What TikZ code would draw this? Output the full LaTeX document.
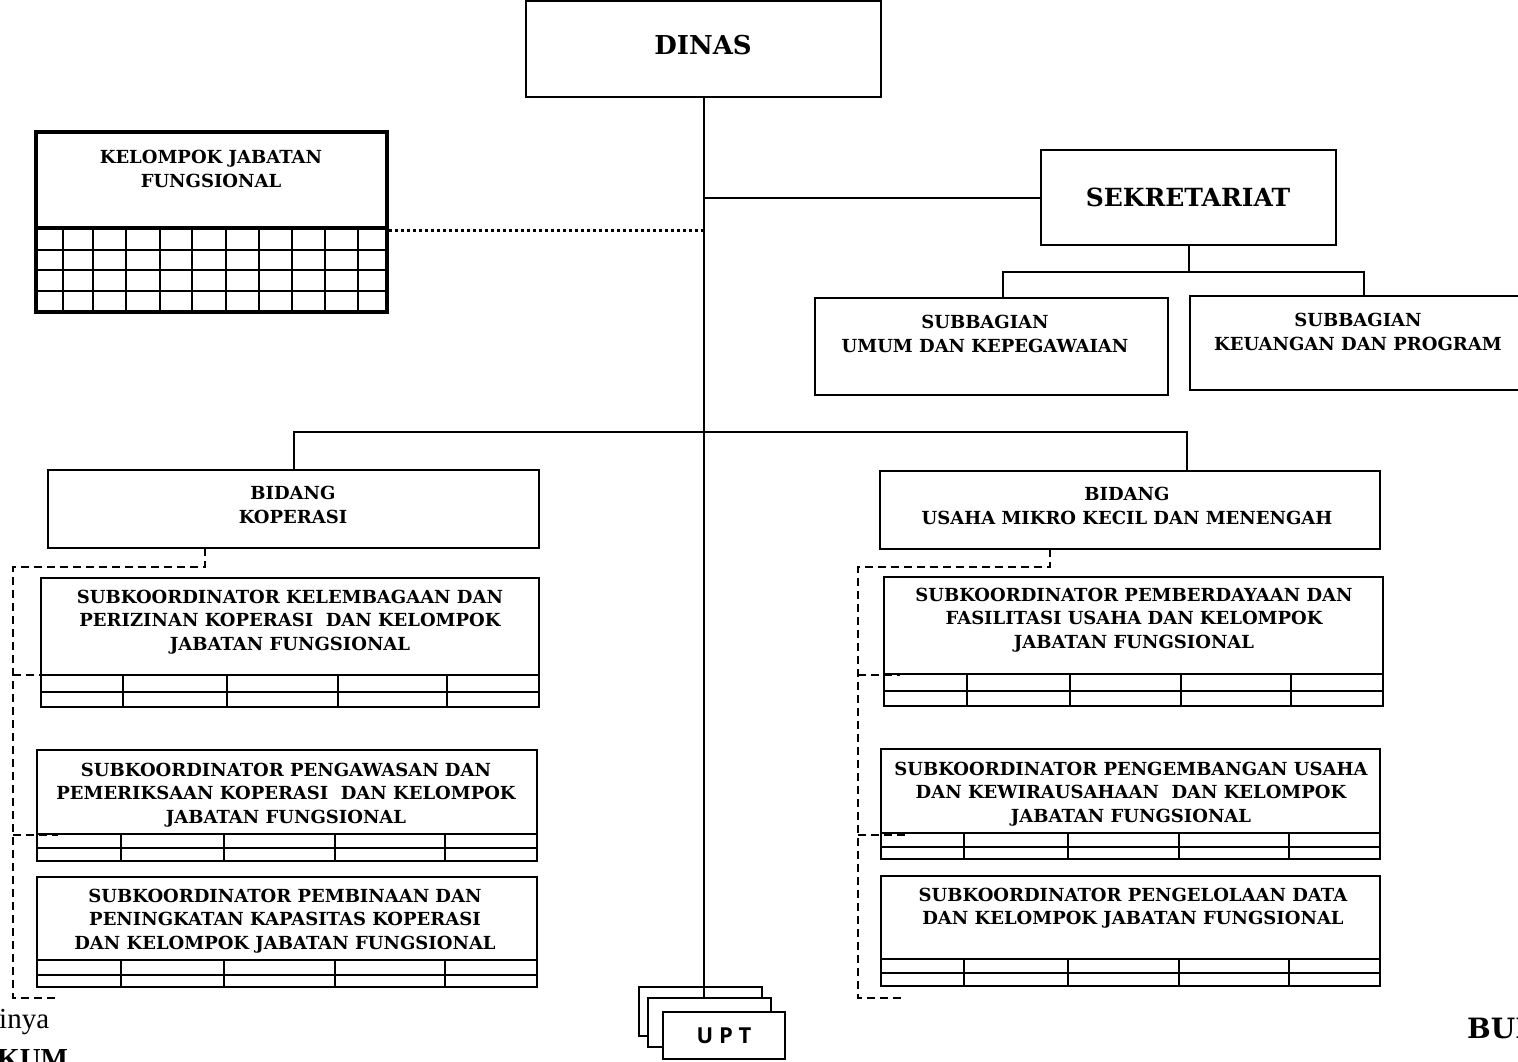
\documentclass[tikz,border=0pt]{standalone}
\usepackage{fontspec}
\setmainfont{DejaVu Serif}
\newfontfamily\plainserif{Liberation Serif}
\newfontfamily\uptfont{Open Sans}
\usetikzlibrary{fit,calc}

\tikzset{
  orgbox/.style={draw, line width=2pt, fill=white, inner sep=0pt},
  heavybox/.style={draw, line width=3.5pt, inner sep=0pt},
  gridline/.style={line width=1.8pt},
  link/.style={line width=2pt},
  dashlink/.style={line width=1.6pt, dash pattern=on 8pt off 5pt},
  dotlink/.style={line width=3pt, dash pattern=on 3pt off 3pt},
  lbl/.style={font=\bfseries\fontsize{18}{23.5}\selectfont, align=center, inner sep=0pt},
  biglbl/.style={font=\bfseries\fontsize{25}{30}\selectfont, inner sep=0pt},
}

% rows and columns of the small staff table under a sub-unit box
% #1 left x, #2 right x, #3 first row line, #4 second row line, #5 bottom, #6 column x list
\newcommand\stafftable[6]{%
  \draw[gridline] (#1,#3) -- (#2,#3) (#1,#4) -- (#2,#4);
  \foreach \cx in {#6} \draw[gridline] (\cx,#3) -- (\cx,#5);
}

\begin{document}
\begin{tikzpicture}[x=1pt, y=-1pt]
\useasboundingbox (0,0) rectangle (1518,1061);

% ---- head of office
\node[orgbox, fit={(526,1) (881,97)}] (dinas) {};
\node[biglbl, font=\bfseries\fontsize{26}{30}\selectfont] (dinast) at (703,45) {DINAS};

% ---- secretariat
\node[orgbox, fit={(1041,150) (1336,245)}] (sek) {};
\node[biglbl] (sekt) at (1188,197) {SEKRETARIAT};

\node[orgbox, fit={(815,298) (1168,395)}] (umum) {};
\node[lbl] (umumt) at (985,334) {SUBBAGIAN\\UMUM DAN KEPEGAWAIAN};
\node[orgbox, fit={(1190,296) (1530,390)}] (keu) {};
\node[lbl] (keut) at (1358,332) {SUBBAGIAN\\KEUANGAN DAN PROGRAM};

% ---- functional group box with its table
\node[heavybox, fit={(36,132) (387,312)}] (kjf) {};
\node[lbl] (kjft) at (211,169) {KELOMPOK JABATAN\\FUNGSIONAL};
\draw[line width=3.5pt] (36,228) -- (387,228);
\draw[gridline] (36,250) -- (387,250) (36,270) -- (387,270) (36,291) -- (387,291);
\foreach \cx in {63,93,126,160,192,226,259,292,325,358}
  \draw[gridline] (\cx,228) -- (\cx,312);

% ---- divisions
\node[orgbox, fit={(48,470) (539,548)}] (bidkop) {};
\node[lbl] (bidkopt) at (293,505) {BIDANG\\KOPERASI};
\node[orgbox, fit={(880,471) (1380,549)}] (bidumkm) {};
\node[lbl] (bidumkmt) at (1127,506) {BIDANG\\USAHA MIKRO KECIL DAN MENENGAH};

% ---- sub-units, cooperatives
\node[orgbox, fit={(41,578) (539,707)}] (kl1) {};
\node[lbl] (kl1t) at (290,622) {SUBKOORDINATOR KELEMBAGAAN DAN\\PERIZINAN KOPERASI \ DAN KELOMPOK\\JABATAN FUNGSIONAL};
\stafftable{41}{539}{675}{692}{707}{123,227,338,447}

\node[orgbox, fit={(37,750) (537,861)}] (kl2) {};
\node[lbl] (kl2t) at (286,795) {SUBKOORDINATOR PENGAWASAN DAN\\PEMERIKSAAN KOPERASI \ DAN KELOMPOK\\JABATAN FUNGSIONAL};
\stafftable{37}{537}{834}{848}{861}{121,224,335,445}

\node[orgbox, fit={(37,877) (537,987)}] (kl3) {};
\node[lbl] (kl3t) at (285,921) {SUBKOORDINATOR PEMBINAAN DAN\\PENINGKATAN KAPASITAS KOPERASI\\DAN KELOMPOK JABATAN FUNGSIONAL};
\stafftable{37}{537}{960}{975}{987}{121,224,335,445}

% ---- sub-units, micro small and medium enterprises
\node[orgbox, fit={(884,577) (1383,706)}] (kr1) {};
\node[lbl] (kr1t) at (1134,620) {SUBKOORDINATOR PEMBERDAYAAN DAN\\FASILITASI USAHA DAN KELOMPOK\\JABATAN FUNGSIONAL};
\stafftable{884}{1383}{674}{691}{706}{967,1070,1181,1291}

\node[orgbox, fit={(881,749) (1380,859)}] (kr2) {};
\node[lbl] (kr2t) at (1131,794) {SUBKOORDINATOR PENGEMBANGAN USAHA\\DAN KEWIRAUSAHAAN \ DAN KELOMPOK\\JABATAN FUNGSIONAL};
\stafftable{881}{1380}{833}{847}{859}{964,1068,1179,1289}

\node[orgbox, fit={(881,876) (1380,986)}] (kr3) {};
\node[lbl] (kr3t) at (1133,908) {SUBKOORDINATOR PENGELOLAAN DATA\\DAN KELOMPOK JABATAN FUNGSIONAL};
\stafftable{881}{1380}{959}{973}{986}{964,1068,1179,1289}

% ---- technical units (stacked)
\node[orgbox, fit={(639,987) (762,1036)}] (upt1) {};
\draw[link] (dinas.south) -- (dinas.south |- 0,998);
\node[orgbox, fit={(648,998) (771,1047)}] (upt2) {};
\node[orgbox, fit={(663,1012) (785,1059)}] (upt3) {};
\node[font=\uptfont\bfseries\fontsize{22}{26}\selectfont, inner sep=0pt] (uptt) at (upt3.center) {U P T};

% ---- solid connectors
\draw[link] (dinas.south |- sek.west) -- (sek.west);
\coordinate (sj) at (sek.south |- 0,272);
\coordinate (sjl) at (1003,272);
\coordinate (sjr) at (1364,272);
\draw[link] (sek.south) -- (sj);
\draw[link] (sjl |- umum.north) -- (sjl) -- (sjr) -- (sjr |- keu.north);
\coordinate (bl) at (bidkop.north |- 0,432);
\coordinate (br) at (1187,432);
\draw[link] (bidkop.north) -- (bl) -- (br) -- (br |- bidumkm.north);

% ---- coordination line of the functional group
\draw[dotlink] (kjf.east |- 0,230) -- (dinas.south |- 0,230);

% ---- dashed coordination lines, cooperatives
\coordinate (kd0) at (205,548);
\coordinate (kd1) at (205,567);
\coordinate (kc1) at (13,567);
\coordinate (kc2) at (13,998);
\draw[dashlink] (kd0) -- (kd1) -- (kc1) -- (kc2) -- (58,998);
\draw[dashlink] (13,675) -- (56,675);
\draw[dashlink] (13,835) -- (58,835);

% ---- dashed coordination lines, enterprises
\coordinate (ud0) at (1050,549);
\coordinate (ud1) at (1050,567);
\coordinate (uc1) at (858,567);
\coordinate (uc2) at (858,998);
\draw[dashlink] (ud0) -- (ud1) -- (uc1) -- (uc2) -- (903,998);
\draw[dashlink] (858,675) -- (900,675);
\draw[dashlink] (858,835) -- (905,835);

% ---- page text around the chart
\node[font=\plainserif\fontsize{29}{32}\selectfont, anchor=base west, inner sep=0pt] (pg1) at (-1,1028) {inya};
\node[font=\plainserif\bfseries\fontsize{29}{32}\selectfont, anchor=base west, inner sep=0pt] (pg2) at (-3,1068) {KUM};
\node[font=\bfseries\fontsize{28}{30}\selectfont, anchor=base west, inner sep=0pt] (pg3) at (1467,1038) {BUP};
\end{tikzpicture}
\end{document}
